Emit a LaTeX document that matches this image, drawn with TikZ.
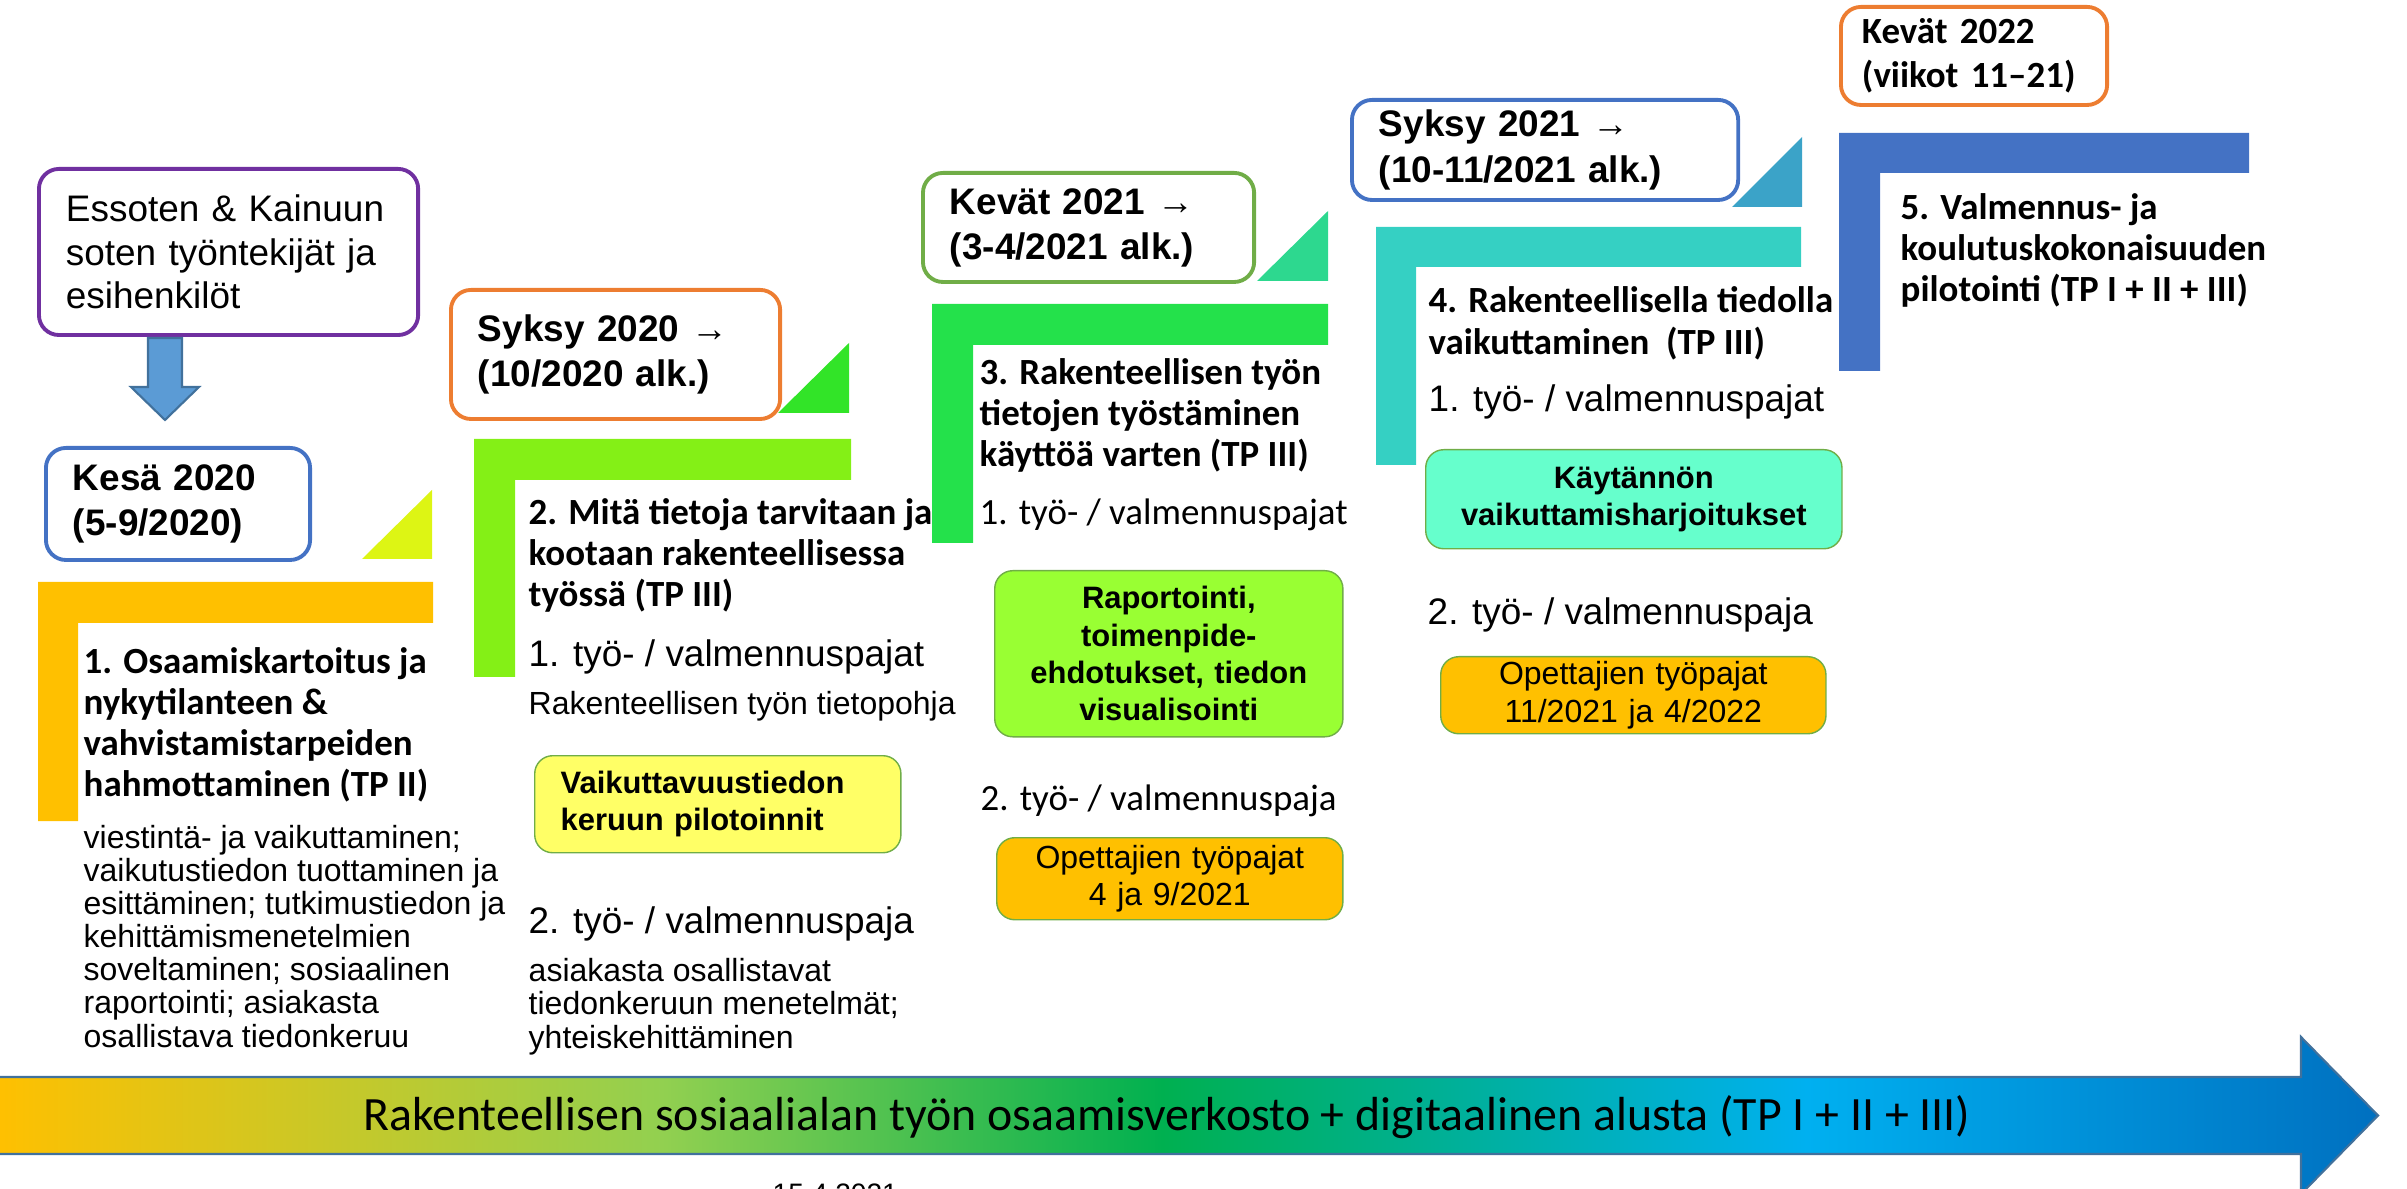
\documentclass[tikz,border=0pt]{standalone}
\usepackage{fontspec}
\setmainfont{Liberation Sans}
\newfontfamily\calibri{Carlito}
\usetikzlibrary{shadings}

\definecolor{essopurple}{RGB}{112,48,160}
\definecolor{boxblue}{RGB}{68,114,196}
\definecolor{boxorange}{RGB}{237,125,49}
\definecolor{boxgreen}{RGB}{112,173,71}
\definecolor{arrowfill}{RGB}{91,155,213}
\definecolor{arrowline}{RGB}{65,113,156}
\definecolor{stepone}{RGB}{255,192,0}
\definecolor{steptwo}{RGB}{132,240,22}
\definecolor{stepthree}{RGB}{36,225,75}
\definecolor{stepfour}{RGB}{53,208,195}
\definecolor{stepfive}{RGB}{68,114,196}
\definecolor{trione}{RGB}{221,245,20}
\definecolor{tritwo}{RGB}{50,228,40}
\definecolor{trithree}{RGB}{45,216,143}
\definecolor{trifour}{RGB}{59,163,200}
\definecolor{pilotyellow}{RGB}{255,255,102}
\definecolor{reportgreen}{RGB}{153,255,51}
\definecolor{practicemint}{RGB}{102,255,204}
\definecolor{teachorange}{RGB}{255,192,0}
\definecolor{tlA}{RGB}{255,192,0}
\definecolor{tlB}{RGB}{146,208,80}
\definecolor{tlC}{RGB}{0,176,80}
\definecolor{tlD}{RGB}{0,176,240}
\definecolor{tlE}{RGB}{0,112,192}

\pgfdeclarehorizontalshading{timeline}{100bp}{color(0bp)=(tlA); color(25bp)=(tlA); color(39bp)=(tlB); color(49.5bp)=(tlC); color(63bp)=(tlD); color(75bp)=(tlE); color(100bp)=(tlE)}

\tikzset{
  datebox/.style={draw=#1, line width=1.1pt, rounded corners=0.2cm, inner xsep=0.27cm, inner ysep=0pt,
                  align=left, anchor=north west, font=\bfseries\fontsize{10.5}{12.8}\selectfont},
  taskbox/.style={draw=boxgreen, fill=#1, line width=0.4pt, rounded corners=0.18cm, inner sep=0pt,
                  align=center, anchor=north west, font=\bfseries\fontsize{8.8}{10.6}\selectfont},
  heading/.style={inner sep=0pt, anchor=base west, align=left, font=\calibri\bfseries\fontsize{10.5}{11.7}\selectfont},
  workshop/.style={inner sep=0pt, anchor=base west, font=\fontsize{10.5}{12}\selectfont},
  notes/.style={inner sep=0pt, anchor=base west, align=left, font=\fontsize{9.1}{9.4}\selectfont}
}

\begin{document}
\begin{tikzpicture}[x=0.01cm, y=-0.01cm]
\useasboundingbox (0,0) rectangle (2407,1189);

% stairs
\fill[stepone] (38,582) -| (433,623) -| (78,821) -- (38,821) -- cycle;
\fill[steptwo] (474,439) -| (851,480) -| (515,677) -- (474,677) -- cycle;
\fill[stepthree] (932,304) -| (1328,345) -| (973,543) -- (932,543) -- cycle;
\fill[stepfour] (1376,227) -| (1801,267) -| (1416,465) -- (1376,465) -- cycle;
\fill[stepfive] (1839,133) -| (2249,173) -| (1880,371) -- (1839,371) -- cycle;
\fill[trione] (362,559) -- (432,559) -- (432,490) -- cycle;
\fill[tritwo] (778,413) -- (849,413) -- (849,343) -- cycle;
\fill[trithree] (1257,281) -- (1328,281) -- (1328,211) -- cycle;
\fill[trifour] (1732,207) -- (1802,207) -- (1802,137) -- cycle;

% date boxes
\node[datebox=essopurple, font=\fontsize{10.5}{12.4}\selectfont, text width=3.25cm, minimum height=1.66cm]
  (ess) at (37,167) {Essoten \& Kainuun\\soten työntekijät ja\\esihenkilöt};
\node[datebox=boxblue, text width=2.10cm, minimum height=1.12cm] (kesa) at (44,446) {Kesä 2020\\(5-9/2020)};
\node[datebox=boxorange, text width=2.75cm, minimum height=1.29cm] (syksy20) at (449,288) {Syksy 2020 →\\(10/2020 alk.)};
\node[datebox=boxgreen, text width=2.77cm, minimum height=1.09cm] (kevat21) at (921,171) {Kevät 2021 →\\(3-4/2021 alk.)};
\node[datebox=boxblue, text width=3.32cm, minimum height=1.00cm] (syksy21) at (1350,98) {Syksy 2021 →\\(10-11/2021 alk.)};
\node[datebox=boxorange, font=\calibri\bfseries\fontsize{10.5}{12.5}\selectfont, inner xsep=0.21cm, text width=2.24cm, minimum height=0.98cm]
  (kevat22) at (1839,5) {Kevät 2022\\(viikot 11–21)};

\draw[fill=arrowfill, draw=arrowline, line width=0.6pt]
  (148,338) -- (182,338) -- (182,387) -- (199,387) -- (165,420) -- (131,387) -- (148,387) -- cycle;

% step 1
\node[heading] (h1) at (83,797) {1. Osaamiskartoitus ja\\nykytilanteen \&\\vahvistamistarpeiden\\hahmottaminen (TP II)};
\node[notes] (n1) at (83,1047) {viestintä- ja vaikuttaminen;\\vaikutustiedon tuottaminen ja\\esittäminen; tutkimustiedon ja\\kehittämismenetelmien\\soveltaminen; sosiaalinen\\raportointi; asiakasta\\osallistava tiedonkeruu};

% step 2
\node[heading] (h2) at (528,607) {2. Mitä tietoja tarvitaan ja\\kootaan rakenteellisessa\\työssä (TP III)};
\node[workshop] (w21) at (528,667) {1. työ- / valmennuspajat};
\node[notes] (n21) at (528,715) {Rakenteellisen työn tietopohja};
\node[taskbox=pilotyellow, align=left, inner xsep=0.26cm, text width=3.14cm, minimum height=0.97cm]
  (pilot) at (534,755) {Vaikuttavuustiedon\\keruun pilotoinnit};
\node[workshop] (w22) at (528,933) {2. työ- / valmennuspaja};
\node[notes] (n22) at (528,1048) {asiakasta osallistavat\\tiedonkeruun menetelmät;\\yhteiskehittäminen};

% step 3
\node[heading] (h3) at (979,467) {3. Rakenteellisen työn\\tietojen työstäminen\\käyttöä varten (TP III)};
\node[workshop, font=\calibri\fontsize{10.5}{12}\selectfont] (w31) at (979,525) {1. työ- / valmennuspajat};
\node[taskbox=reportgreen, text width=3.48cm, minimum height=1.66cm]
  (report) at (994,570) {Raportointi,\\toimenpide-\\ehdotukset, tiedon\\visualisointi};
\node[workshop, font=\calibri\fontsize{10.5}{12}\selectfont] (w32) at (980,810) {2. työ- / valmennuspaja};
\node[taskbox=teachorange, font=\fontsize{9.1}{10.8}\selectfont, text width=3.46cm, minimum height=0.82cm]
  (teach1) at (996,837) {Opettajien työpajat\\4 ja 9/2021};

% step 4
\node[heading, font=\calibri\bfseries\fontsize{10.5}{12}\selectfont] (h4) at (1428,355) {4. Rakenteellisella tiedolla\\vaikuttaminen\ \ (TP III)};
\node[workshop] (w41) at (1428,412) {1. työ- / valmennuspajat};
\node[taskbox=practicemint, text width=4.16cm, minimum height=0.99cm]
  (practice) at (1425,449) {Käytännön\\vaikuttamisharjoitukset};
\node[workshop] (w42) at (1427,625) {2. työ- / valmennuspaja};
\node[taskbox=teachorange, font=\fontsize{9.1}{10.8}\selectfont, text width=3.85cm, minimum height=0.77cm]
  (teach2) at (1440,656) {Opettajien työpajat\\11/2021 ja 4/2022};

% step 5
\node[heading] (h5) at (1900,302) {5. Valmennus- ja\\koulutuskokonaisuuden\\pilotointi (TP I + II + III)};

% timeline
\draw[shading=timeline, draw=arrowline, line width=0.6pt]
  (-5,1077) -- (2301,1077) -- (2301,1037) -- (2378,1115.5) -- (2301,1194) -- (2301,1154) -- (-5,1154) -- cycle;
\node[inner sep=0pt, anchor=base, font=\calibri\fontsize{13.6}{15}\selectfont] (network) at (1167,1130)
  {Rakenteellisen sosiaalialan työn osaamisverkosto + digitaalinen alusta (TP I + II + III)};
\node[inner sep=0pt, anchor=north west, font=\fontsize{8}{9}\selectfont] (date) at (772,1183) {15.4.2021};
\end{tikzpicture}
\end{document}
